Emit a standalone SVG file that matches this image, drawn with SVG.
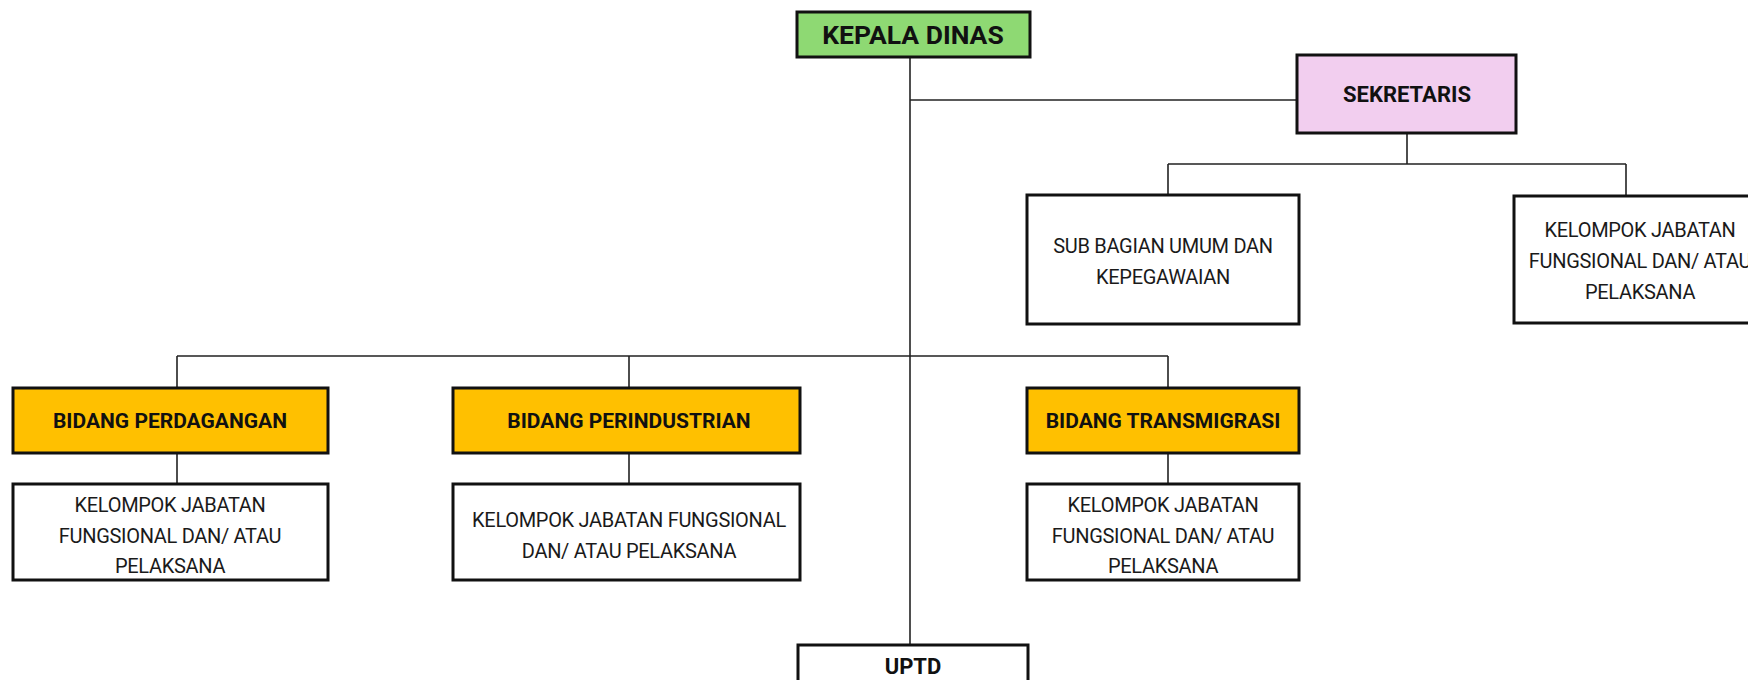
<svg xmlns="http://www.w3.org/2000/svg" width="1748" height="680" viewBox="0 0 1748 680">
<style>
.box{stroke:#111;stroke-width:3}
.w{fill:#fff}
.g{fill:#8ED973}
.p{fill:#F2CEEF}
.y{fill:#FFC000}
.c{fill:none;stroke:#222;stroke-width:1.6}
.t{font-family:Roboto,"Liberation Sans",sans-serif;font-size:20px;letter-spacing:-0.3px;fill:#1a1a1a;text-anchor:middle;dominant-baseline:central}
.b{font-family:Roboto,"Liberation Sans",sans-serif;font-weight:bold;fill:#111;text-anchor:middle;dominant-baseline:central}
</style>
<rect width="1748" height="680" fill="#fff"/>
<g id="connectors">
<path class="c" d="M910 57V645"/>
<path class="c" d="M910 100H1297"/>
<path class="c" d="M1407 133V164M1168 164H1626M1168 164V195M1626 164V196"/>
<path class="c" d="M177 356H1168M177 356V388M629 356V388M1168 356V388"/>
<path class="c" d="M177 453V484M629 453V484M1168 453V484"/>
</g>
<g id="kepala">
<rect class="box g" x="797" y="12" width="233" height="45"/>
<text class="b" x="913" y="34" font-size="26.5">KEPALA DINAS</text>
</g>
<g id="sekretaris">
<rect class="box p" x="1297" y="55" width="219" height="78"/>
<text class="b" x="1407" y="94" font-size="22">SEKRETARIS</text>
</g>
<g id="subbagian">
<rect class="box w" x="1027" y="195" width="272" height="129"/>
<text class="t" x="1163" y="246">SUB BAGIAN UMUM DAN</text>
<text class="t" x="1163" y="277">KEPEGAWAIAN</text>
</g>
<g id="kjf-sekretaris">
<rect class="box w" x="1514" y="196" width="260" height="127"/>
<text class="t" x="1640" y="230">KELOMPOK JABATAN</text>
<text class="t" x="1640" y="261">FUNGSIONAL DAN/ ATAU</text>
<text class="t" x="1640" y="292">PELAKSANA</text>
</g>
<g id="perdagangan">
<rect class="box y" x="13" y="388" width="315" height="65"/>
<text class="b" x="170" y="421" font-size="21">BIDANG PERDAGANGAN</text>
</g>
<g id="kjf-perdagangan">
<rect class="box w" x="13" y="484" width="315" height="96"/>
<text class="t" x="170" y="505">KELOMPOK JABATAN</text>
<text class="t" x="170" y="536">FUNGSIONAL DAN/ ATAU</text>
<text class="t" x="170" y="566">PELAKSANA</text>
</g>
<g id="perindustrian">
<rect class="box y" x="453" y="388" width="347" height="65"/>
<text class="b" x="629" y="421" font-size="21">BIDANG PERINDUSTRIAN</text>
</g>
<g id="kjf-perindustrian">
<rect class="box w" x="453" y="484" width="347" height="96"/>
<text class="t" x="629" y="520">KELOMPOK JABATAN FUNGSIONAL</text>
<text class="t" x="629" y="551">DAN/ ATAU PELAKSANA</text>
</g>
<g id="transmigrasi">
<rect class="box y" x="1027" y="388" width="272" height="65"/>
<text class="b" x="1163" y="421" font-size="21">BIDANG TRANSMIGRASI</text>
</g>
<g id="kjf-transmigrasi">
<rect class="box w" x="1027" y="484" width="272" height="96"/>
<text class="t" x="1163" y="505">KELOMPOK JABATAN</text>
<text class="t" x="1163" y="536">FUNGSIONAL DAN/ ATAU</text>
<text class="t" x="1163" y="566">PELAKSANA</text>
</g>
<g id="uptd">
<rect class="box w" x="798" y="645" width="230" height="50"/>
<text class="b" x="913" y="666" font-size="22">UPTD</text>
</g>
</svg>
